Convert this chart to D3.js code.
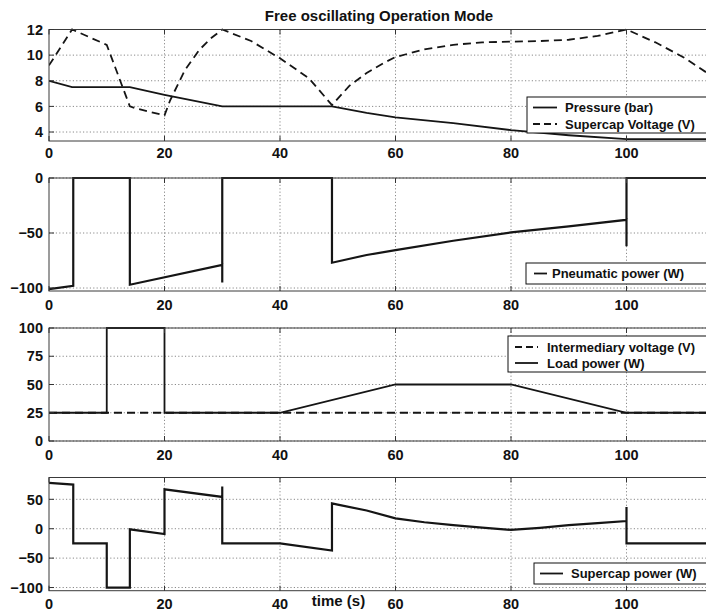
<!DOCTYPE html>
<html><head><meta charset="utf-8">
<script src="https://cdn.jsdelivr.net/npm/d3@7"></script>
<style>
body{margin:0;background:#fff;overflow:hidden}
svg text{font-family:"Liberation Sans",Arial,Helvetica,sans-serif;font-weight:bold;fill:#111}
</style></head><body>
<svg id="c" width="706" height="616"></svg>
<script>
// ---------- data ----------
const xTicks = [0, 20, 40, 60, 80, 100, 120];
const xTickLabels = ["0", "20", "40", "60", "80", "100", ""];

// Panel 1
const pressureT = [0, 4, 14, 20, 30, 49, 55, 60, 70, 80, 90, 100, 120];
const pressureV = [8.0, 7.5, 7.5, 6.9, 6.0, 6.0, 5.5, 5.15, 4.7, 4.15, 3.75, 3.45, 3.45];
const voltageT = [0, 4, 10, 14, 15, 20, 21, 23.5, 26, 28, 30, 35, 40, 45, 49, 50, 52, 55, 58, 60, 65, 70, 75, 80, 85, 90, 95, 100, 105, 110, 114, 120];
const voltageV = [9.2, 12, 10.8, 6.0, 5.85, 5.3, 6.5, 8.8, 10.4, 11.3, 12.0, 11.1, 9.75, 8.2, 6.1, 6.6, 7.6, 8.6, 9.4, 9.85, 10.45, 10.8, 11.0, 11.05, 11.1, 11.2, 11.5, 12.0, 11.0, 9.8, 8.6, 7.0];
const p1Ticks = [4, 6, 8, 10, 12];

// Panel 2
const pneuT = [0, 4.2, 4.2, 14, 14, 30, 30, 30, 49, 49, 55, 60, 70, 80, 90, 100, 100, 100, 120];
const pneuV = [-101, -98, 0, 0, -97, -79, -95, 0, 0, -77, -70, -65.5, -57, -49.5, -44, -38, -62, 0, 0];
const p2Ticks = [-100, -50, 0];

// Panel 3
const loadT = [0, 10, 10, 20, 20, 40, 60, 80, 100, 120];
const loadV = [25, 25, 100, 100, 25, 25, 50, 50, 25, 25];
const interT = [0, 120];
const interV = [25, 25];
const p3Ticks = [0, 25, 50, 75, 100];

// Panel 4
const scT = [0, 4.2, 4.2, 10, 10, 14, 14, 20, 20, 30, 30, 30, 40, 49, 49, 50, 55, 60, 65, 70, 75, 80, 85, 90, 95, 100, 100, 100, 120];
const scV = [78, 75, -25, -25, -100, -100, -1, -9, 67, 54, 72, -25, -25, -37, 43, 41, 31, 17.5, 11, 6, 2, -2, 1.5, 6, 9.5, 13, 37, -25, -25];
const p4Ticks = [-100, -50, 0, 50];

// ---------- layout ----------
const svg = d3.select("#c");
const x = d3.scaleLinear().domain([0, 120]).range([49, 49 + 120 * 5.775]);

const panels = [
  {top: 29.5, bottom: 141, domain: [3.3, 12], ticks: p1Ticks, xlabOff: 12,
   series: [{t: pressureT, v: pressureV, dash: null, w: 1.8}, {t: voltageT, v: voltageV, dash: "8,5", w: 1.8}],
   legend: {x: 527, y: 97, h: 36, lx1: 533, lx2: 557, tx: 565, items: [["Pressure (bar)", null, 107.5], ["Supercap Voltage (V)", "7,4", 124]]}},
  {top: 178, bottom: 291, domain: [-102.7, 0], ticks: p2Ticks, xlabOff: 14,
   series: [{t: pneuT, v: pneuV, dash: null, w: 2.2}],
   legend: {x: 526, y: 263, h: 21, lx1: 534, lx2: 547, tx: 552, items: [["Pneumatic power (W)", null, 273.5]]}},
  {top: 328, bottom: 441, domain: [0, 100], ticks: p3Ticks, xlabOff: 14,
   series: [{t: interT, v: interV, dash: "8,5", w: 1.8}, {t: loadT, v: loadV, dash: null, w: 1.8}],
   legend: {x: 508, y: 336, h: 36, lx1: 515, lx2: 538, tx: 547, items: [["Intermediary voltage (V)", "7,4", 347], ["Load power (W)", null, 363]]}},
  {top: 477.5, bottom: 590.7, domain: [-105.4, 87.1], ticks: p4Ticks, xlabOff: 13.5,
   series: [{t: scT, v: scV, dash: null, w: 2.2}],
   legend: {x: 534, y: 563, h: 21, lx1: 540, lx2: 563, tx: 571, items: [["Supercap power (W)", null, 573.5]]}}
];

panels.forEach((p, i) => {
  const y = d3.scaleLinear().domain(p.domain).range([p.bottom, p.top]);
  const g = svg.append("g");
  const x0 = x.range()[0], x1 = x.range()[1];

  g.append("rect").attr("x", x0).attr("y", p.top).attr("width", x1 - x0).attr("height", p.bottom - p.top)
    .attr("fill", "#fff");

  // grid
  xTicks.filter(d => d > 0).forEach(d => {
    g.append("line").attr("x1", x(d)).attr("x2", x(d)).attr("y1", p.top).attr("y2", p.bottom)
      .attr("stroke", "#8a8a8a").attr("stroke-width", 1).attr("stroke-dasharray", "1.2,2.2");
  });
  p.ticks.forEach(d => {
    g.append("line").attr("x1", x0).attr("x2", x1).attr("y1", y(d)).attr("y2", y(d))
      .attr("stroke", "#8a8a8a").attr("stroke-width", 1).attr("stroke-dasharray", "1.2,2.2");
  });

  // data lines
  const clipId = "clip" + i;
  svg.append("clipPath").attr("id", clipId).append("rect")
    .attr("x", x0).attr("y", p.top - 2).attr("width", x1 - x0).attr("height", p.bottom - p.top + 4);
  const line = d3.line().x(d => x(d[0])).y(d => y(d[1]));
  p.series.forEach(s => {
    const pts = s.t.map((t, k) => [t, s.v[k]]);
    g.append("path").attr("d", line(pts)).attr("fill", "none").attr("stroke", "#151515")
      .attr("stroke-width", s.w).attr("stroke-dasharray", s.dash).attr("clip-path", `url(#${clipId})`)
      .attr("stroke-linejoin", "miter");
  });

  // box
  g.append("rect").attr("x", x0).attr("y", p.top).attr("width", x1 - x0).attr("height", p.bottom - p.top)
    .attr("fill", "none").attr("stroke", "#3a3a3a").attr("stroke-width", 1);

  // tick marks
  xTicks.forEach(d => {
    g.append("line").attr("x1", x(d)).attr("x2", x(d)).attr("y1", p.bottom).attr("y2", p.bottom - 5).attr("stroke", "#333");
    g.append("line").attr("x1", x(d)).attr("x2", x(d)).attr("y1", p.top).attr("y2", p.top + 5).attr("stroke", "#333");
  });
  p.ticks.forEach(d => {
    g.append("line").attr("x1", x0).attr("x2", x0 + 5).attr("y1", y(d)).attr("y2", y(d)).attr("stroke", "#333");
  });

  // tick labels
  xTicks.forEach((d, k) => {
    if (!xTickLabels[k]) return;
    g.append("text").attr("x", x(d)).attr("y", p.bottom + p.xlabOff).attr("dy", "0.36em")
      .attr("text-anchor", "middle").style("font-size", "14.5px").text(xTickLabels[k]);
  });
  p.ticks.forEach(d => {
    g.append("text").attr("x", 43).attr("y", y(d)).attr("dy", "0.36em")
      .attr("text-anchor", "end").style("font-size", "14.5px").text(d3.format("d")(d));
  });

  // legend
  const L = p.legend;
  g.append("rect").attr("x", L.x).attr("y", L.y).attr("width", 260).attr("height", L.h)
    .attr("fill", "#fff").attr("stroke", "#111").attr("stroke-width", 1);
  L.items.forEach(([label, dash, cy]) => {
    g.append("line").attr("x1", L.lx1).attr("x2", L.lx2).attr("y1", cy).attr("y2", cy)
      .attr("stroke", "#151515").attr("stroke-width", 1.8).attr("stroke-dasharray", dash);
    g.append("text").attr("x", L.tx).attr("y", cy).attr("dy", "0.36em").style("font-size", "13px").text(label);
  });
});

svg.append("text").attr("x", 379).attr("y", 15.5).attr("dy", "0.36em").attr("text-anchor", "middle")
  .style("font-size", "15px").text("Free oscillating Operation Mode");
svg.append("text").attr("x", 338.5).attr("y", 601).attr("dy", "0.36em").attr("text-anchor", "middle")
  .style("font-size", "15px").text("time (s)");
</script></body></html>
